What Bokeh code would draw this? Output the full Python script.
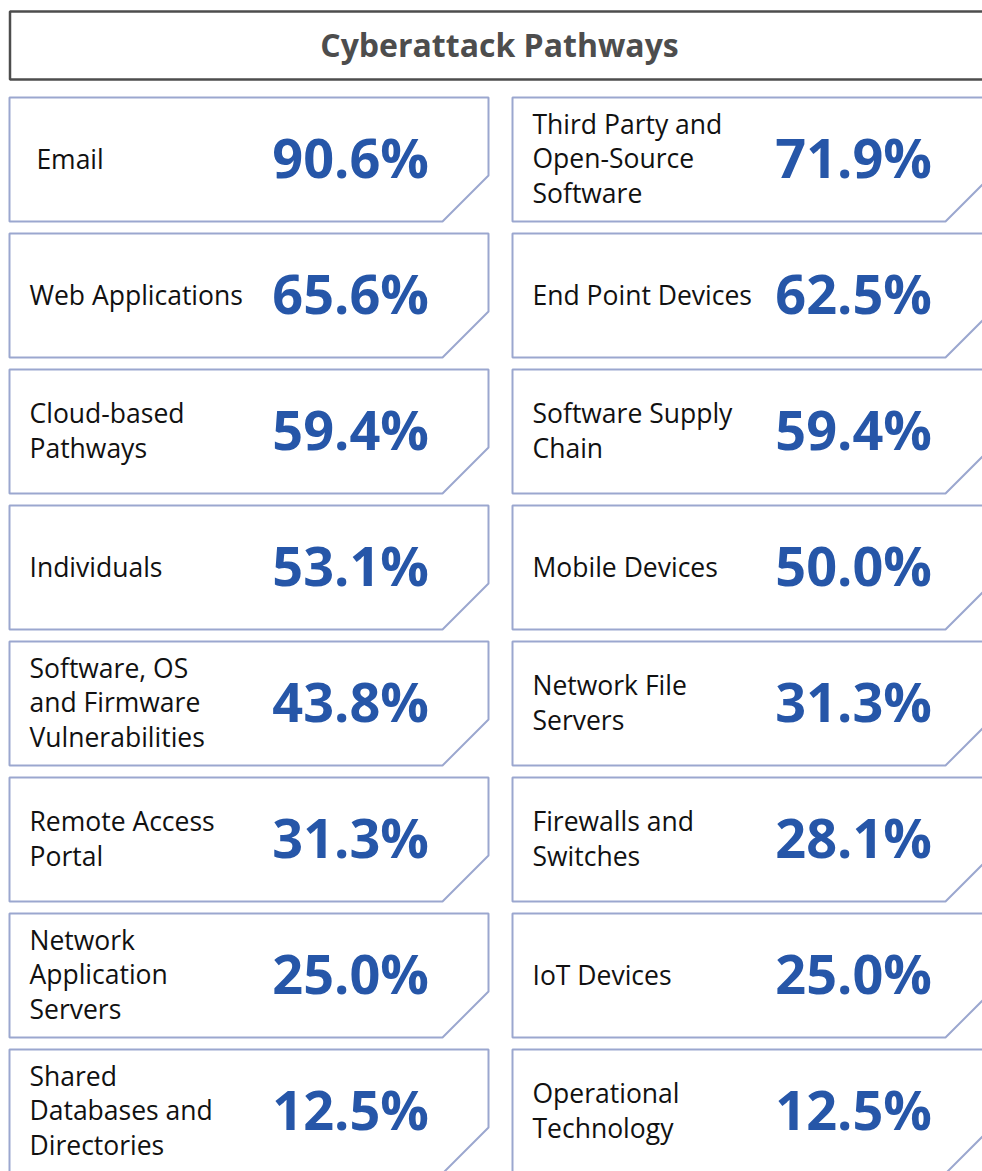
from bokeh.plotting import figure
from bokeh.models import Range1d, ColumnDataSource
from bokeh.core.properties import value
from bokeh.embed import file_html
from bokeh.resources import INLINE

title = "Cyberattack Pathways"
labels = [
    "\u00a0Email", "Third Party and\nOpen-Source\nSoftware",
    "Web Applications", "End Point Devices",
    "Cloud-based\nPathways", "Software Supply\nChain",
    "Individuals", "Mobile Devices",
    "Software, OS\nand Firmware\nVulnerabilities", "Network File\nServers",
    "Remote Access\nPortal", "Firewalls and\nSwitches",
    "Network\nApplication\nServers", "IoT Devices",
    "Shared\nDatabases and\nDirectories", "Operational\nTechnology",
]
values = [90.6, 71.9, 65.6, 62.5, 59.4, 59.4, 53.1, 50.0,
          43.8, 31.3, 31.3, 28.1, 25.0, 25.0, 12.5, 12.5]

W, H = 982, 1171
p = figure(width=W, height=H, output_backend="svg", toolbar_location=None,
           x_range=Range1d(0, W), y_range=Range1d(H, 0),
           min_border=0)
p.axis.visible = False
p.grid.visible = False
p.outline_line_color = None
p.background_fill_color = "white"
p.border_fill_color = "white"

# title box
p.quad(left=[9.5], right=[1000], top=[11], bottom=[79], fill_color="white",
       line_color="#4d4d4d", line_width=2.5)
p.text(x=[499], y=[43.5], text=[title], text_font=value("Open Sans"),
       text_font_style="bold", text_font_size="32px", text_color="#4d4d4d",
       text_align="center", text_baseline="middle")

# cards
card_w, card_h, cut, pitch = 479, 124, 46, 136
col_x = [9, 512]
xs, ys, lx, ly, vx, vy, vt = [], [], [], [], [], [], []
for i, (lab, v) in enumerate(zip(labels, values)):
    r, c = divmod(i, 2)
    x0 = col_x[c]
    x1 = x0 + card_w
    y0 = 97 + pitch * r
    y1 = y0 + card_h
    xs.append([x0, x1, x1, x1 - cut, x0])
    ys.append([y0, y0, y1 - cut, y1, y0 + card_h])
    lx.append(x0 + 20)
    ly.append((y0 + y1) / 2 - 1)
    vx.append(x0 + 419.5)
    vy.append((y0 + y1) / 2 - 3)
    vt.append(f"{v:.1f}%")

p.patches(xs=xs, ys=ys, fill_color="white", line_color="#9ba7cf", line_width=2)

src = ColumnDataSource(dict(x=lx, y=ly, t=labels))
p.text(x="x", y="y", text="t", source=src, text_font=value("Open Sans"),
       text_font_size="26.5px", text_color="#111111", text_align="left",
       text_baseline="middle", text_line_height=0.95)
src2 = ColumnDataSource(dict(x=vx, y=vy, t=vt))
p.text(x="x", y="y", text="t", source=src2, text_font=value("Open Sans"),
       text_font_style="bold", text_font_size="54px", text_color="#2656a8",
       text_align="right", text_baseline="middle")

open("out.html", "w").write(file_html(p, INLINE))
